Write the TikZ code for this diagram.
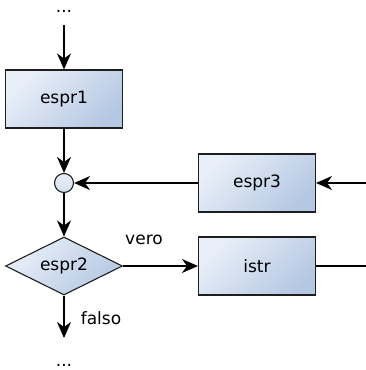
\documentclass[tikz,border=0pt]{standalone}
\usepackage{fontspec}
\setmainfont{DejaVu Sans}
\usetikzlibrary{shapes.geometric,arrows.meta}
\definecolor{fillA}{HTML}{E9EFF8}
\definecolor{fillB}{HTML}{B5C8E3}
\definecolor{jointfill}{HTML}{D3E0F0}
\definecolor{edgec}{HTML}{1E1E1E}
\begin{document}
\begin{tikzpicture}[x=1pt,y=-1pt,
  font=\fontsize{17}{20}\selectfont,
  blockbox/.style={draw=edgec, line width=1.1pt, minimum width=117pt,
    minimum height=58pt, inner sep=0pt,
    top color=fillA, bottom color=fillB, shading angle=45},
  decision/.style={diamond, aspect=2, draw=edgec, line width=1.1pt,
    minimum width=117pt, minimum height=58pt, inner sep=0pt,
    top color=fillA, bottom color=fillB, shading angle=45},
  joint/.style={circle, draw=edgec, line width=1.1pt, minimum size=19pt,
    inner sep=0pt, top color=fillA, bottom color=jointfill},
  plain/.style={line width=1.3pt, draw=black},
  flow/.style={plain, -{Stealth[length=16pt,width=14pt,inset=5pt]}},
  lbl/.style={inner sep=0pt}]
\useasboundingbox (0,0) rectangle (366,370);

% entry and exit markers
\node[lbl, anchor=base] (dotsT) at (64,12.5) {...};
\node[lbl, anchor=base] (dotsB) at (64,366) {...};
\coordinate (t0) at (64,25);
\coordinate (b0) at (64,338);
\coordinate (r3) at (366,183);
\coordinate (ri) at (366,266);

% blocks
\node[blockbox] (e1) at (64,99) {espr1};
\node[joint] (j) at (64,183) {};
\node[blockbox] (e3) at (257,183) {espr3};
\node[decision] (d) at (64,266) {espr2};
\node[blockbox] (is) at (257,266) {istr};

% connectors
\draw[flow] (t0) -- (e1);
\draw[flow] (e1) -- (j);
\draw[flow] (r3) -- (e3);
\draw[flow] (e3) -- (j);
\draw[flow] (j) -- (d);
\draw[flow] (d) -- (is);
\draw[plain] (is) -- (ri);
\draw[flow] (d) -- (b0);

% branch labels
\node[lbl] (vero) at (144,240) {vero};
\node[lbl] (falso) at (101,318) {falso};
\end{tikzpicture}
\end{document}
